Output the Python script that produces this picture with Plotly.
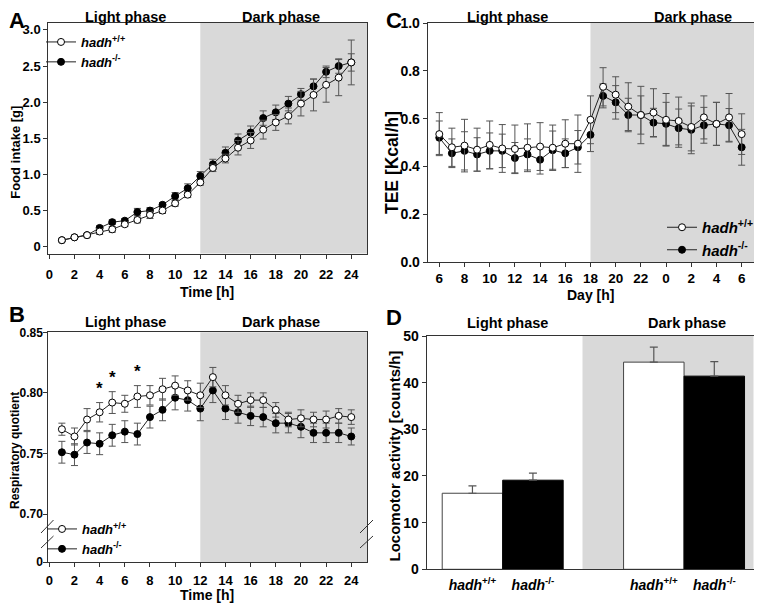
import plotly.graph_objects as go

W, H = 762, 610
OFF = 8  # page body margin of the browser; screen coords are shifted by this
FONT = "Liberation Sans, Arial, Helvetica, sans-serif"

# ---------------- data ----------------
hours = list(range(1, 25))
food_wt = [0.09, 0.13, 0.16, 0.21, 0.24, 0.31, 0.37, 0.44, 0.50, 0.60, 0.72, 0.89,
           1.09, 1.22, 1.37, 1.47, 1.62, 1.72, 1.81, 1.98, 2.10, 2.24, 2.34, 2.55]
food_wt_err = [0.01, 0.02, 0.02, 0.04, 0.04, 0.03, 0.04, 0.05, 0.04, 0.04, 0.04, 0.04,
               0.05, 0.06, 0.10, 0.11, 0.13, 0.11, 0.11, 0.17, 0.22, 0.24, 0.25, 0.31]
food_ko = [0.09, 0.13, 0.16, 0.26, 0.34, 0.36, 0.48, 0.50, 0.58, 0.70, 0.81, 0.98,
           1.14, 1.30, 1.47, 1.58, 1.78, 1.86, 1.98, 2.11, 2.22, 2.42, 2.50, 2.55]
food_ko_err = [0.01, 0.02, 0.02, 0.03, 0.03, 0.03, 0.05, 0.04, 0.03, 0.05, 0.06, 0.06,
               0.07, 0.08, 0.09, 0.09, 0.10, 0.10, 0.10, 0.08, 0.10, 0.08, 0.10, 0.12]

rq_wt = [0.770, 0.764, 0.778, 0.784, 0.792, 0.791, 0.797, 0.798, 0.803, 0.806, 0.802, 0.798,
         0.813, 0.798, 0.791, 0.794, 0.794, 0.786, 0.778, 0.779, 0.778, 0.778, 0.781, 0.780]
rq_wt_err = [0.005, 0.007, 0.009, 0.008, 0.009, 0.007, 0.009, 0.008, 0.009, 0.008, 0.008, 0.010,
             0.008, 0.008, 0.007, 0.006, 0.006, 0.006, 0.006, 0.007, 0.006, 0.007, 0.006, 0.006]
rq_ko = [0.751, 0.749, 0.759, 0.758, 0.765, 0.768, 0.766, 0.780, 0.786, 0.796, 0.794, 0.787,
         0.802, 0.787, 0.784, 0.781, 0.780, 0.775, 0.775, 0.772, 0.767, 0.767, 0.767, 0.764]
rq_ko_err = [0.009, 0.009, 0.009, 0.009, 0.009, 0.009, 0.009, 0.009, 0.009, 0.010, 0.009, 0.010,
             0.010, 0.009, 0.009, 0.008, 0.008, 0.008, 0.008, 0.009, 0.008, 0.008, 0.008, 0.007]
rq_sig_hours = [4, 5, 7]

tee_hours = list(range(6, 31))
tee_tick_hours = list(range(6, 31, 2))
tee_wt = [0.535, 0.480, 0.487, 0.470, 0.490, 0.475, 0.473, 0.478, 0.483, 0.478, 0.495, 0.495,
          0.595, 0.733, 0.700, 0.650, 0.615, 0.625, 0.595, 0.590, 0.565, 0.605, 0.578, 0.605, 0.535]
tee_wt_err = [0.09, 0.08, 0.11, 0.09, 0.10, 0.10, 0.10, 0.10, 0.10, 0.095, 0.10, 0.12,
              0.10, 0.08, 0.075, 0.10, 0.12, 0.10, 0.11, 0.10, 0.10, 0.09, 0.09, 0.10, 0.085]
tee_ko = [0.520, 0.455, 0.465, 0.450, 0.465, 0.465, 0.435, 0.450, 0.428, 0.468, 0.455, 0.480,
          0.532, 0.695, 0.668, 0.615, 0.615, 0.583, 0.578, 0.560, 0.553, 0.572, 0.578, 0.572, 0.480]
tee_ko_err = [0.07, 0.06, 0.08, 0.07, 0.075, 0.07, 0.065, 0.065, 0.06, 0.08, 0.06, 0.07,
              0.07, 0.05, 0.07, 0.07, 0.08, 0.06, 0.09, 0.08, 0.10, 0.075, 0.09, 0.07, 0.075]

phases = ["Light phase", "Dark phase"]
loco_wt = [16.3, 44.4]
loco_wt_err = [1.6, 3.2]
loco_ko = [19.1, 41.4]
loco_ko_err = [1.5, 3.1]

WT = "<i>hadh</i><sup>+/+</sup>"
KO = "<i>hadh</i><sup>-/-</sup>"

# ---------------- helpers ----------------
def px(x):
    return (x - OFF) / W

def py(y):
    return 1 - (y - OFF) / H

LINE = "#333333"
ERR = "#555555"
SHADE = "#d9d9d9"

fig = go.Figure()


def add_series(x, y, err, filled, xa, ya, legend, show, msize=7, capw=3.5):
    fig.add_trace(go.Scatter(
        x=x, y=y, mode="lines+markers",
        name=KO if filled else WT,
        line=dict(color="#222222", width=1),
        marker=dict(size=msize, color="black" if filled else "white",
                    line=dict(color="black", width=1)),
        error_y=dict(type="data", array=err, color=ERR, thickness=1, width=capw),
        xaxis=xa, yaxis=ya, legend=legend, showlegend=show,
    ))

# A: food intake
add_series(hours, food_ko, food_ko_err, True, "x", "y", "legend", True)
add_series(hours, food_wt, food_wt_err, False, "x", "y", "legend", True)
# C: TEE
add_series(tee_hours, tee_ko, tee_ko_err, True, "x2", "y2", "legend3", True)
add_series(tee_hours, tee_wt, tee_wt_err, False, "x2", "y2", "legend3", True)
# B: RQ
add_series(hours, rq_ko, rq_ko_err, True, "x3", "y3", "legend2", True)
add_series(hours, rq_wt, rq_wt_err, False, "x3", "y3", "legend2", True)

# D: locomotor activity
BARGAP = 0.333
bw = (1 - BARGAP) / 2
groups = list(range(len(phases)))
fig.add_trace(go.Bar(
    x=groups, y=loco_wt, name=WT, marker=dict(color="white", line=dict(color="#444444", width=1)),
    error_y=dict(type="data", array=loco_wt_err, arrayminus=[0] * len(groups), symmetric=False,
                 color=ERR, thickness=1.2, width=4),
    xaxis="x4", yaxis="y4", showlegend=False))
fig.add_trace(go.Bar(
    x=groups, y=loco_ko, name=KO, marker=dict(color="black", line=dict(color="black", width=1)),
    error_y=dict(type="data", array=loco_ko_err, arrayminus=[0] * len(groups), symmetric=False,
                 color=ERR, thickness=1.2, width=4),
    xaxis="x4", yaxis="y4", showlegend=False))

bar_ticks, bar_labels = [], []
for g in groups:
    bar_ticks += [g - bw / 2, g + bw / 2]
    bar_labels += [WT, KO]

# ---------------- axes ----------------
def tf(size):
    return dict(family=FONT, size=size, color="black", weight="bold")

common = dict(showline=True, mirror=True, linecolor=LINE, linewidth=1, ticks="outside",
              ticklen=4, tickcolor=LINE, showgrid=False, zeroline=False, automargin=False)

A_xr = [-0.08, 25.25]
B_yr = [0.6604, 0.85]
C_xr = [5.08, 31.4]
D_xr = [-0.419, 1.384]

fig.update_layout(
    xaxis=dict(domain=[px(48.3), px(367)], range=A_xr, tickvals=list(range(0, 25, 2)),
               anchor="y", ticklabelstandoff=5, tickfont=tf(13), **common),
    yaxis=dict(domain=[py(253.5), py(22.7)], range=[-0.094, 3.10],
               tickvals=[0, 0.5, 1.0, 1.5, 2.0, 2.5, 3.0],
               ticktext=["0", "0.5", "1.0", "1.5", "2.0", "2.5", "3.0"], anchor="x",
               tickfont=tf(13), **common),
    xaxis2=dict(domain=[px(427.7), px(759.3)], range=C_xr, tickvals=tee_tick_hours,
                ticktext=[str(h % 24) for h in tee_tick_hours], anchor="y2",
                ticklabelstandoff=0, tickfont=tf(13.5), **common),
    yaxis2=dict(domain=[py(262), py(23)], range=[0, 1.0], tickvals=[0, 0.2, 0.4, 0.6, 0.8, 1.0],
                tickformat=".1f", anchor="x2", tickfont=tf(14), **common),
    xaxis3=dict(domain=[px(48.3), px(367)], range=A_xr, tickvals=list(range(0, 25, 2)),
                anchor="y3", ticklabelstandoff=2, tickfont=tf(13), **common),
    yaxis3=dict(domain=[py(562), py(332.3)], range=B_yr,
                tickvals=[B_yr[0], 0.70, 0.75, 0.80, 0.85],
                ticktext=["0", "0.70", "0.75", "0.80", "0.85"], anchor="x3",
                ticklabelstandoff=-2, tickfont=tf(12), **common),
    xaxis4=dict(domain=[px(426.7), px(753.7)], range=D_xr, tickvals=bar_ticks, ticktext=bar_labels,
                anchor="y4", ticklabelstandoff=3, tickfont=tf(14),
                **{**common, "ticks": ""}),
    yaxis4=dict(domain=[py(569.3), py(336)], range=[0, 50], tickvals=[0, 10, 20, 30, 40, 50],
                anchor="x4", tickfont=tf(14), **common),
    barmode="group", bargap=BARGAP, bargroupgap=0,
)

# ---------------- shading ----------------
shapes = [
    dict(type="rect", xref="x", yref="y domain", x0=12, x1=A_xr[1], y0=0, y1=1,
         fillcolor=SHADE, line_width=0, layer="below"),
    dict(type="rect", xref="x2", yref="y2 domain", x0=18, x1=C_xr[1], y0=0, y1=1,
         fillcolor=SHADE, line_width=0, layer="below"),
    dict(type="rect", xref="x3", yref="y3 domain", x0=12, x1=A_xr[1], y0=0, y1=1,
         fillcolor=SHADE, line_width=0, layer="below"),
    dict(type="rect", xref="x4", yref="y4 domain", x0=0.44, x1=D_xr[1], y0=0, y1=1,
         fillcolor=SHADE, line_width=0, layer="below"),
]
# axis break in panel B
for xa, xb in [(41, 53.5), (360, 373)]:
    for ya, yb in [(533, 520), (548, 536)]:
        shapes.append(dict(type="line", xref="paper", yref="paper", x0=px(xa), x1=px(xb),
                           y0=py(ya), y1=py(yb), line=dict(color="#333333", width=1), layer="above"))
fig.update_layout(shapes=shapes)

# ---------------- annotations ----------------
ann = []

def txt(text, x, y, size, angle=0, xanchor="center"):
    ann.append(dict(text=text, x=px(x), y=py(y), xref="paper", yref="paper", showarrow=False,
                    xanchor=xanchor, yanchor="middle", textangle=angle,
                    borderpad=0, borderwidth=0,
                    font=dict(family=FONT, size=size, color="black", weight="bold")))

txt("A", 16.5, 20.5, 22)
txt("B", 16.5, 314.5, 22)
txt("C", 394, 20.5, 22)
txt("D", 394, 317, 22)
for (lx, dx, y) in [(125.5, 281, 16.5), (507.5, 692.7, 16.5), (125.5, 281, 321.5), (507.5, 687, 322.5)]:
    txt(phases[0], lx, y, 14.5)
    txt(phases[1], dx, y, 14.5)

txt("Food intake [g]", 15.8, 152, 13, -90)
txt("Time [h]", 207.5, 291.5, 14)
txt("TEE [Kcal/h]", 392, 163, 17.5, -90)
txt("Day [h]", 590, 295, 14)
txt("Respiratory quotient", 15, 451, 12, -90)
txt("Time [h]", 207.5, 595, 14)
txt("Locomotor activity [counts/h]", 393.5, 456, 15, -90)

# significance stars (panel B)
for h in rq_sig_hours:
    i = hours.index(h)
    ann.append(dict(text="*", x=h, y=rq_wt[i] + rq_wt_err[i] + 0.004, xref="x3", yref="y3",
                    showarrow=False, yanchor="bottom", borderpad=0, borderwidth=0,
                    font=dict(family=FONT, size=17, color="black", weight="bold")))
fig.update_layout(annotations=ann)

leg_common = dict(bgcolor="rgba(0,0,0,0)", borderwidth=0, xanchor="left", yanchor="top",
                  traceorder="reversed", itemwidth=30)
fig.update_layout(
    legend=dict(x=px(41), y=py(27), font=tf(13), **leg_common),
    legend2=dict(x=px(42), y=py(514), font=tf(13), **leg_common),
    legend3=dict(x=px(662), y=py(211), font=tf(15), **leg_common),
)

fig.update_layout(width=W, height=H, margin=dict(l=0, r=0, t=0, b=0, pad=0, autoexpand=False),
                  paper_bgcolor="white", plot_bgcolor="white",
                  font=dict(family=FONT, color="black"))

fig.write_html("out.html")
